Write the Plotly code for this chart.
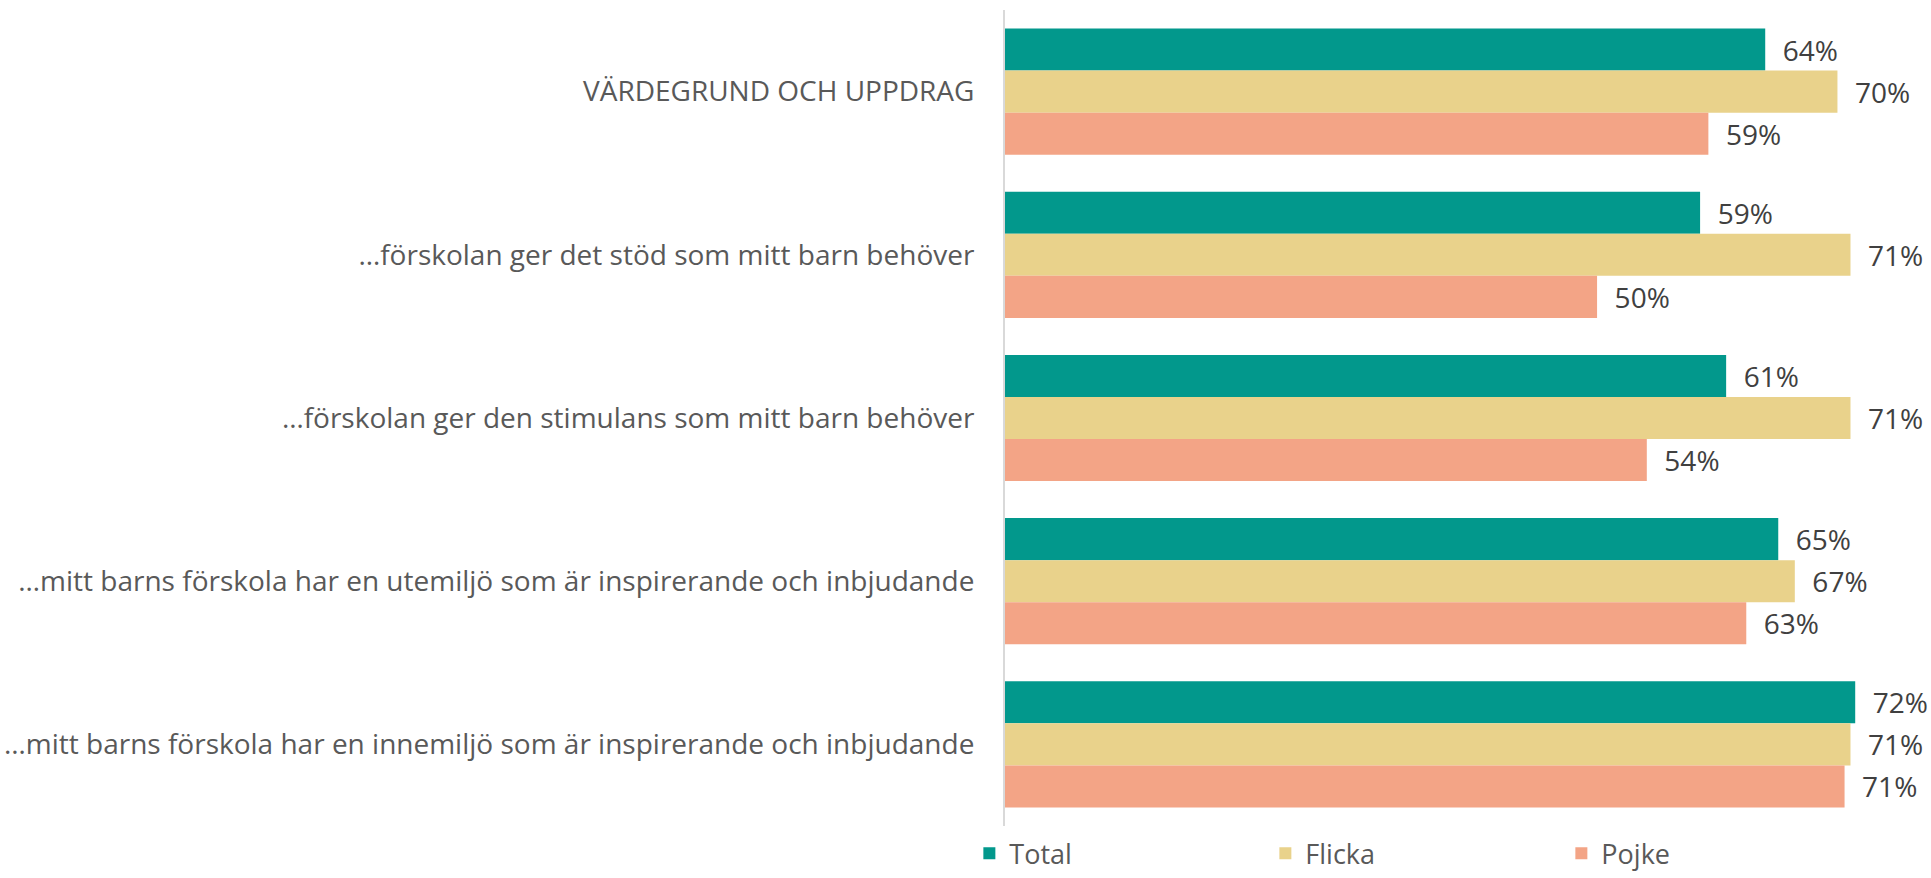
import plotly.graph_objects as go

categories = [
    "VÄRDEGRUND OCH UPPDRAG",
    "…förskolan ger det stöd som mitt barn behöver",
    "…förskolan ger den stimulans som mitt barn behöver",
    "…mitt barns förskola har en utemiljö som är inspirerande och inbjudande",
    "…mitt barns förskola har en innemiljö som är inspirerande och inbjudande",
]
total = [0.642, 0.587, 0.609, 0.653, 0.718]
flicka = [0.703, 0.714, 0.714, 0.667, 0.714]
pojke = [0.594, 0.500, 0.542, 0.626, 0.709]

series = [
    ("Total", total, "#02988C"),
    ("Flicka", flicka, "#E9D28B"),
    ("Pojke", pojke, "#F3A486"),
]

fig = go.Figure()
for name, vals, color in series:
    fig.add_trace(go.Bar(
        name=name, y=categories, x=vals, orientation="h",
        marker=dict(color=color, line=dict(width=0)),
        texttemplate="\u00a0\u00a0%{x:.0%}", textposition="outside",
        textfont=dict(family="Open Sans", size=28, color="#404040"),
        cliponaxis=False,
    ))

fig.update_layout(
    width=1931, height=878,
    margin=dict(l=1005, r=0, t=10, b=52, autoexpand=False),
    barmode="group", bargap=0.227, bargroupgap=0,
    plot_bgcolor="white", paper_bgcolor="white",
    font=dict(family="Open Sans", color="#595959"),
    xaxis=dict(range=[0, 0.782], visible=False),
    yaxis=dict(autorange="reversed", showline=True, linecolor="#D9D9D9", linewidth=2,
               ticks="", tickfont=dict(size=28, color="#595959"), ticklabelstandoff=23,
               automargin=False),
    legend=dict(orientation="h", xref="container", x=0.502, xanchor="left",
                yref="paper", y=-0.064, yanchor="bottom",
                traceorder="normal", entrywidth=251, entrywidthmode="pixels",
                font=dict(size=27, color="#595959")),
    showlegend=True,
)

fig.write_html("out.html", config={"displayModeBar": False},
               post_script="document.body.style.margin='0';document.body.style.overflow='hidden';")
